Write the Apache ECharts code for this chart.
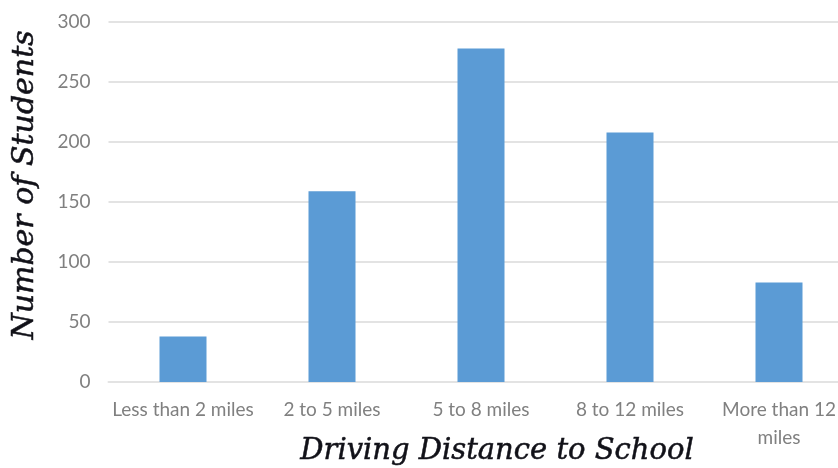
<!DOCTYPE html>
<html>
<head>
<meta charset="utf-8">
<title>Driving Distance to School</title>
<script src="https://cdn.jsdelivr.net/npm/echarts@6/dist/echarts.min.js"></script>
<style>
  html, body { margin: 0; padding: 0; background: #ffffff; }
  #chart { width: 838px; height: 468px; }
</style>
</head>
<body>
<div id="chart"></div>
<script>
// Distance bands (x axis) and how many students fall in each
const categories = ['Less than 2 miles', '2 to 5 miles', '5 to 8 miles', '8 to 12 miles', 'More than 12\nmiles'];
const students = [38, 159, 278, 208, 83];
const yTicks = [0, 50, 100, 150, 200, 250, 300];

const chart = echarts.init(document.getElementById('chart'), null, { renderer: 'canvas' });

const labelGray = '#808080';
const gridGray = '#e3e3e3';
const titleStyle = {
  fontFamily: 'DejaVu Serif',
  fontStyle: 'italic',
  color: '#111118',
  textBorderColor: '#111118',
  textBorderWidth: 0.5
};

chart.setOption({
  animation: false,
  backgroundColor: '#ffffff',
  grid: {
    left: 108.5, right: -15.5, top: 22, bottom: 86,
    containLabel: false,
    outerBoundsMode: 'none'
  },
  xAxis: {
    type: 'category',
    data: categories,
    name: 'Driving Distance to School',
    nameLocation: 'middle',
    nameGap: 55,
    nameMoveOverlap: false,
    nameTextStyle: Object.assign({ fontSize: 29, padding: [0, 0, 0, 32] }, titleStyle),
    axisLine: { show: true, lineStyle: { color: gridGray, width: 2 } },
    axisTick: { show: false },
    axisLabel: {
      interval: 0,
      margin: 14,
      color: labelGray,
      fontFamily: 'Lato',
      fontSize: 19,
      lineHeight: 28
    }
  },
  yAxis: {
    type: 'value',
    min: yTicks[0],
    max: yTicks[yTicks.length - 1],
    interval: yTicks[1] - yTicks[0],
    name: 'Number of Students',
    nameLocation: 'middle',
    nameGap: 68,
    nameRotate: 90,
    nameMoveOverlap: false,
    nameTextStyle: Object.assign({ fontSize: 30, padding: [0, 0, 0, 34] }, titleStyle),
    axisLine: { show: false },
    axisTick: { show: false },
    axisLabel: {
      margin: 18,
      color: labelGray,
      fontFamily: 'Lato',
      fontSize: 19
    },
    splitLine: { show: true, lineStyle: { color: gridGray, width: 2 } }
  },
  series: [{
    type: 'bar',
    data: students,
    barWidth: 47,
    itemStyle: { color: '#5b9bd5' }
  }]
});
</script>
</body>
</html>
